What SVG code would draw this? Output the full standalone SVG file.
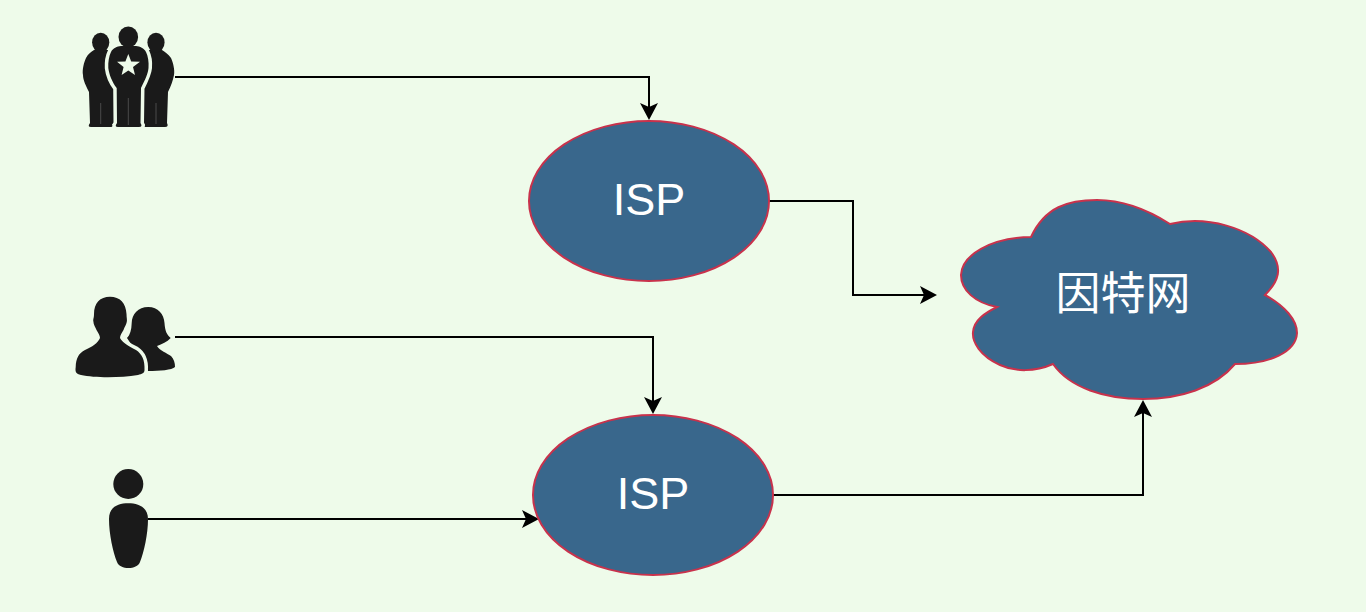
<svg xmlns="http://www.w3.org/2000/svg" width="1366" height="612" viewBox="0 0 1366 612">
<style>
.n{fill:#39678c;stroke:#c8324c;stroke-width:2}
.t{fill:#fff;font-family:"Liberation Sans","Noto Sans CJK SC",sans-serif;font-size:45px;text-anchor:middle}
.c{fill:none;stroke:#000;stroke-width:2}
.i{fill:#1a1a1a}
.h{stroke:#eefbea;stroke-width:7;paint-order:stroke;stroke-linejoin:round}
.s{fill:none;stroke:#4a4a4a;stroke-width:1}
</style>
<defs>
<marker id="a" markerUnits="userSpaceOnUse" markerWidth="19" markerHeight="18" refX="14" refY="9" orient="auto"><path d="M0 0L17 9L0 18L4 9Z" fill="#000"/></marker>
</defs>
<rect width="1366" height="612" fill="#eefbea"/>
<g id="connectors">
<path class="c" marker-end="url(#a)" d="M175 77H649V117"/>
<path class="c" marker-end="url(#a)" d="M175 337H653V411"/>
<path class="c" marker-end="url(#a)" d="M148 519H536"/>
<path class="c" marker-end="url(#a)" d="M769 201H853V295H934"/>
<path class="c" marker-end="url(#a)" d="M773 495H1143V403"/>
</g>
<g id="isp1"><ellipse class="n" cx="649" cy="201" rx="120" ry="80"/><text class="t" x="649" y="215">ISP</text></g>
<g id="isp2"><ellipse class="n" cx="653" cy="495" rx="120" ry="80"/><text class="t" x="653" y="509">ISP</text></g>
<g id="internet"><path class="n" d="M1031 237C1045 207 1068 200 1097 200C1125 200 1148 210 1170 224C1207 215 1250 228 1271 252C1283 268 1279 281 1265 295C1285 306 1297 320 1297 333C1296 352 1270 364 1235 364C1215 388 1180 399 1143 399C1105 399 1070 388 1053 364C1035 372 1015 372 1000 365C980 356 972 342 973 332C974 320 985 313 997 307C975 303 961 290 961 275C962 255 990 238 1031 237Z"/><text class="t" x="1123" y="310">因特网</text></g>
<g id="group" class="i">
<path d="M94 50L108 50L118 60L118 124L112 124Q114 127 111 127L91 127Q87 127 90 123L89 92C86 86 83 80 83 75C82 70 84 62 86 58C88 54 91 52 94 50Z"/>
<ellipse cx="100.700" cy="42.500" rx="8.600" ry="9.800"/>
<path d="M162 50L148 50L138 60L138 124L145 124Q142 127 145 127L165 127Q169 127 167 123L168 92C171 86 173 80 174 75C175 70 173 62 171 58C168 54 165 52 162 50Z"/>
<ellipse cx="156" cy="42.500" rx="8.600" ry="9.800"/>
<path class="s" d="M100.700 103V124M156 103V124"/>
<path class="h" d="M121 46L136 46C140 46.500 144 48 146 52C148 56 149 62 148.500 68C148 74 145 80 141 88L140.500 123Q143 127 139 127L118 127Q114 127 117 123L116.700 88C112 82 109 74 108.300 68C108 62 109 56 111 52C113 48 117 46.500 121 46Z"/>
<ellipse cx="128.300" cy="37" rx="9.800" ry="10.500"/>
<path class="s" d="M128.300 98V125"/>
<path d="M128.300 54L131.200 61.500L140 61.700L133 67L135 75L128.300 70.500L121.600 75L123.600 67L117 61.700L125.400 61.500Z" fill="#eefbea"/>
</g>
<g id="couple" class="i">
<path d="M148.300 307C158 307 164 314 164.500 323C165 331 167 335 170.700 338C167 342 162 344 157 346C160 351 167 353 171 356C174 359 175 363 175 367C172 370 160 371 148 371L135 350L127 338C130 335 131.500 330 131.700 323C132 314 138 307 148.300 307Z"/>
<path class="h" d="M110 296.700C120 296.700 126 303 126.500 314C126.500 318 127.500 320 126.500 323C125.500 326 124.500 327 123.500 330C122 333 120 335 120 338C122 342 128 346 136 350C142 354 145 360 144.500 370C144.500 373 142 374 138 375C120 378 95 378 81 375C76 374 75 372 75.700 367C76 358 79 353 85 350C92 347 98 343 100 338C100 335 98 333 96.500 330C95.500 327 93.500 325 93.300 321C93 319 94 318 94 314C94 303 100 296.700 110 296.700Z"/>
</g>
<g id="person" class="i"><circle cx="128.300" cy="484" r="15"/><path d="M128.300 503.300C138 503.300 148 507 148 519C148 534 144 552 140 562C137 570 120 570 117 562C113 552 109 534 109 519C109 507 118 503.300 128.300 503.300Z"/></g>
</svg>
